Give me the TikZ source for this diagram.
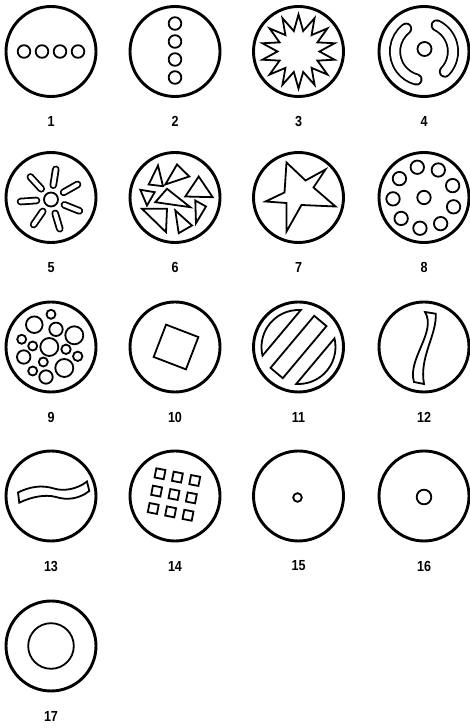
\documentclass[tikz,border=0pt]{standalone}
\usepackage{fontspec}
\newfontfamily\numfont[FakeStretch=0.86]{Liberation Sans}

\begin{document}
\begin{tikzpicture}[x=1pt,y=1pt,line width=1.8pt,
  disc/.style={circle,draw,line width=2.9pt,minimum size=90pt,inner sep=0pt},
  lbl/.style={font=\numfont\bfseries\fontsize{14.6}{16}\selectfont},
  capsule/.style={double distance=#1,line cap=round}]
% 外圈 + 编号：\plate{编号}
\newcommand{\plate}[1]{
  \node[disc] (d#1) at (0,0) {};
  \node[lbl] (n#1) at (0,-70) {#1};}
\useasboundingbox (0,0) rectangle (470,728);
% ---------- 第一行 ----------
\begin{scope}[shift={(51,676.5)}]
\plate{1}
\foreach \x in {-27,-9,9,27} \draw (\x,0) circle[radius=6.3];
\end{scope}
\begin{scope}[shift={(175,676.5)}]
\plate{2}
\foreach \y in {28,10,-8,-26} \draw (0,\y) circle[radius=6.3];
\end{scope}
\begin{scope}[shift={(298.5,676.5)}]
\plate{3}
\draw (90:37) \foreach \k in {0,...,13} {-- ({90+\k*360/14+180/14}:21) -- ({90+(\k+1)*360/14}:37)} -- cycle;
\end{scope}
\begin{scope}[shift={(424,676.5)}]
\plate{4}
\draw (0.5,2.5) circle[radius=7];
\draw[capsule=8.4] (128:29) arc[start angle=128,end angle=255,radius=29];
\draw[capsule=8.4] (-44:29) arc[start angle=-44,end angle=64,radius=29];
\end{scope}
% ---------- 第二行 ----------
\begin{scope}[shift={(51,530.5)}]
\plate{5}
\draw (0,-2) circle[radius=7];
\foreach \a in {0,...,6}
  \draw[capsule=4] ([yshift=-2]{81+\a*360/7}:14.5) -- ([yshift=-2]{81+\a*360/7}:30.5);
\end{scope}
\begin{scope}[shift={(175,530.5)}]
\plate{6}
\draw (-17,32) -- (-12,11.3) -- (-26.3,13) -- cycle;
\draw (2,33) -- (14.3,21) -- (-9.7,13) -- cycle;
\draw (23.7,21) -- (37.7,0.3) -- (10.3,1) -- cycle;
\draw (-34.7,7.7) -- (-20.3,5.3) -- (-28,-8) -- cycle;
\draw (-8,8.7) -- (15.3,-9.7) -- (-19.7,-4.7) -- cycle;
\draw (20.3,-3) -- (31,-9) -- (21,-25.7) -- cycle;
\draw (-33,-11.3) -- (-8,-11.3) -- (-9,-34.7) -- cycle;
\draw (0.3,-13) -- (17,-28) -- (3.7,-35.7) -- cycle;
\end{scope}
\begin{scope}[shift={(298.5,530.5)}]
\plate{7}
\draw (-12,35) -- (7,17) -- (27,28) -- (15,10) -- (37,-9) -- (3,-7.5)
  -- (-12,-34) -- (-12,-5.5) -- (-33,-4) -- (-14,5) -- cycle;
\end{scope}
\begin{scope}[shift={(424,530.5)}]
\plate{8}
\draw (0,0) circle[radius=6.7];
\foreach \a in {0,...,8} \draw ({102.5-\a*40}:31) circle[radius=6.7];
\end{scope}
% ---------- 第三行 ----------
\begin{scope}[shift={(51,381)}]
\plate{9}
\foreach \x/\y/\r in {0/32.7/4.5, -16.7/22.3/8.3, 5/17.7/6.7, 23.3/11.7/9,
    -29.3/7.7/4.5, -18.3/1/4.5, -1.7/0/9, 15/-2.3/4.7, 26.7/-9.3/4.7,
    -27.3/-10/6.7, -7.7/-15/4.5, -18.3/-24/4.5, -5/-30/6.7, 13.3/-21/9}
  \draw (\x,\y) circle[radius=\r];
\end{scope}
\begin{scope}[shift={(175,381)}]
\plate{10}
\draw[shift={(1,0)},rotate=-21] (-17.3,-17.3) rectangle (17.3,17.3);
\end{scope}
\begin{scope}[shift={(298.5,381)}]
\plate{11}
\begin{scope}[rotate=-40]
\draw (53.5:37) arc[start angle=53.5,end angle=-53.5,radius=37] -- cycle;
\draw (126.5:37) arc[start angle=126.5,end angle=233.5,radius=37] -- cycle;
\draw (-8,-34) rectangle (8,34);
\end{scope}
\end{scope}
\begin{scope}[shift={(424,381)}]
\plate{12}
\draw (1,35) .. controls (13,15) and (-17,-12) .. (-10,-35) -- (0,-37)
  .. controls (-5,-10) and (13,12) .. (11.7,33.3) -- cycle;
\end{scope}
% ---------- 第四行 ----------
\begin{scope}[shift={(51,232)}]
\plate{13}
\draw (-33,3.5) .. controls (-22,9) and (-10,11.5) .. (3,7.5)
  .. controls (12,4.5) and (26,6.5) .. (36,14.5) -- (38.3,5)
  .. controls (28,-3) and (16,-4.5) .. (5,-1)
  .. controls (-6,2) and (-20,-1) .. (-31.7,-6.7) -- cycle;
\end{scope}
\begin{scope}[shift={(175,232)}]
\plate{14}
\begin{scope}[shift={(-1,1.5)},rotate=-11]
\foreach \i in {-1,0,1} \foreach \j in {-1,0,1}
  \draw ({17.7*\i-4.65},{17.7*\j-4.65}) rectangle +(9.3,9.3);
\end{scope}
\end{scope}
\begin{scope}[shift={(298.5,232)}]
\plate{15}
\draw (-1,-1.5) circle[radius=4.3];
\end{scope}
\begin{scope}[shift={(424,232)}]
\plate{16}
\draw (0,-1) circle[radius=7.3];
\end{scope}
% ---------- 第五行 ----------
\begin{scope}[shift={(51,82)}]
\plate{17}
\draw (0,0) circle[radius=22.8];
\end{scope}
\end{tikzpicture}
\end{document}
